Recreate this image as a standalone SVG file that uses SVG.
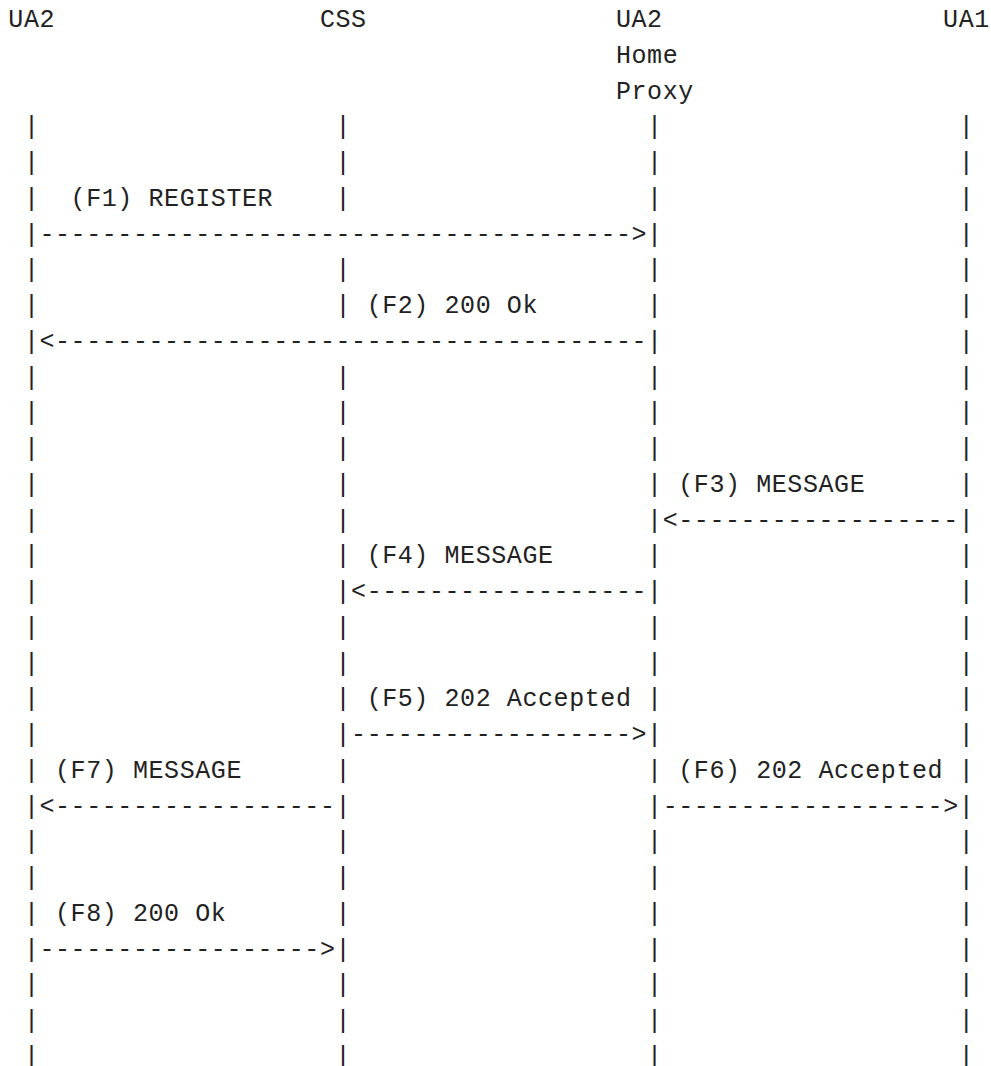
<svg xmlns="http://www.w3.org/2000/svg" width="991" height="1066" viewBox="0 0 991 1066">
<style>
text { font-family: "Liberation Mono", "DejaVu Sans Mono", monospace; font-size: 25px; letter-spacing: 0.58px; fill: #222; white-space: pre; }
</style>
<rect width="991" height="1066" fill="#ffffff"/>
<g id="node-ua2">
<text x="8.3" y="27">UA2</text>
<text><tspan x="23.88" y="134.25">|</tspan><tspan x="23.88" y="170">|</tspan><tspan x="23.88" y="205.75">|</tspan><tspan x="23.88" y="241.5">|</tspan><tspan x="23.88" y="277.25">|</tspan><tspan x="23.88" y="313">|</tspan><tspan x="23.88" y="348.75">|</tspan><tspan x="23.88" y="384.5">|</tspan><tspan x="23.88" y="420.25">|</tspan><tspan x="23.88" y="456">|</tspan><tspan x="23.88" y="491.75">|</tspan><tspan x="23.88" y="527.5">|</tspan><tspan x="23.88" y="563.25">|</tspan><tspan x="23.88" y="599">|</tspan><tspan x="23.88" y="634.75">|</tspan><tspan x="23.88" y="670.5">|</tspan><tspan x="23.88" y="706.25">|</tspan><tspan x="23.88" y="742">|</tspan><tspan x="23.88" y="777.75">|</tspan><tspan x="23.88" y="813.5">|</tspan><tspan x="23.88" y="849.25">|</tspan><tspan x="23.88" y="885">|</tspan><tspan x="23.88" y="920.75">|</tspan><tspan x="23.88" y="956.5">|</tspan><tspan x="23.88" y="992.25">|</tspan><tspan x="23.88" y="1028">|</tspan><tspan x="23.88" y="1063.75">|</tspan></text>
</g>
<g id="node-css">
<text x="319.9" y="27">CSS</text>
<text><tspan x="335.48" y="134.25">|</tspan><tspan x="335.48" y="170">|</tspan><tspan x="335.48" y="205.75">|</tspan><tspan x="335.48" y="277.25">|</tspan><tspan x="335.48" y="313">|</tspan><tspan x="335.48" y="384.5">|</tspan><tspan x="335.48" y="420.25">|</tspan><tspan x="335.48" y="456">|</tspan><tspan x="335.48" y="491.75">|</tspan><tspan x="335.48" y="527.5">|</tspan><tspan x="335.48" y="563.25">|</tspan><tspan x="335.48" y="599">|</tspan><tspan x="335.48" y="634.75">|</tspan><tspan x="335.48" y="670.5">|</tspan><tspan x="335.48" y="706.25">|</tspan><tspan x="335.48" y="742">|</tspan><tspan x="335.48" y="777.75">|</tspan><tspan x="335.48" y="813.5">|</tspan><tspan x="335.48" y="849.25">|</tspan><tspan x="335.48" y="885">|</tspan><tspan x="335.48" y="920.75">|</tspan><tspan x="335.48" y="956.5">|</tspan><tspan x="335.48" y="992.25">|</tspan><tspan x="335.48" y="1028">|</tspan><tspan x="335.48" y="1063.75">|</tspan></text>
</g>
<g id="node-ua2-home-proxy">
<text x="615.92" y="27">UA2</text>
<text x="615.92" y="62.75">Home</text>
<text x="615.92" y="98.5">Proxy</text>
<text><tspan x="647.08" y="134.25">|</tspan><tspan x="647.08" y="170">|</tspan><tspan x="647.08" y="205.75">|</tspan><tspan x="647.08" y="241.5">|</tspan><tspan x="647.08" y="277.25">|</tspan><tspan x="647.08" y="313">|</tspan><tspan x="647.08" y="348.75">|</tspan><tspan x="647.08" y="384.5">|</tspan><tspan x="647.08" y="420.25">|</tspan><tspan x="647.08" y="456">|</tspan><tspan x="647.08" y="491.75">|</tspan><tspan x="647.08" y="527.5">|</tspan><tspan x="647.08" y="563.25">|</tspan><tspan x="647.08" y="599">|</tspan><tspan x="647.08" y="634.75">|</tspan><tspan x="647.08" y="670.5">|</tspan><tspan x="647.08" y="706.25">|</tspan><tspan x="647.08" y="742">|</tspan><tspan x="647.08" y="777.75">|</tspan><tspan x="647.08" y="813.5">|</tspan><tspan x="647.08" y="849.25">|</tspan><tspan x="647.08" y="885">|</tspan><tspan x="647.08" y="920.75">|</tspan><tspan x="647.08" y="956.5">|</tspan><tspan x="647.08" y="992.25">|</tspan><tspan x="647.08" y="1028">|</tspan><tspan x="647.08" y="1063.75">|</tspan></text>
</g>
<g id="node-ua1">
<text x="943.1" y="27">UA1</text>
<text><tspan x="958.68" y="134.25">|</tspan><tspan x="958.68" y="170">|</tspan><tspan x="958.68" y="205.75">|</tspan><tspan x="958.68" y="241.5">|</tspan><tspan x="958.68" y="277.25">|</tspan><tspan x="958.68" y="313">|</tspan><tspan x="958.68" y="348.75">|</tspan><tspan x="958.68" y="384.5">|</tspan><tspan x="958.68" y="420.25">|</tspan><tspan x="958.68" y="456">|</tspan><tspan x="958.68" y="491.75">|</tspan><tspan x="958.68" y="527.5">|</tspan><tspan x="958.68" y="563.25">|</tspan><tspan x="958.68" y="599">|</tspan><tspan x="958.68" y="634.75">|</tspan><tspan x="958.68" y="670.5">|</tspan><tspan x="958.68" y="706.25">|</tspan><tspan x="958.68" y="742">|</tspan><tspan x="958.68" y="777.75">|</tspan><tspan x="958.68" y="813.5">|</tspan><tspan x="958.68" y="849.25">|</tspan><tspan x="958.68" y="885">|</tspan><tspan x="958.68" y="920.75">|</tspan><tspan x="958.68" y="956.5">|</tspan><tspan x="958.68" y="992.25">|</tspan><tspan x="958.68" y="1028">|</tspan><tspan x="958.68" y="1063.75">|</tspan></text>
</g>
<g id="connectors">
<text x="70.62" y="205.75">(F1) REGISTER</text>
<text x="39.46" y="241.5">--------------------------------------&gt;</text>
<text x="366.64" y="313">(F2) 200 Ok</text>
<text x="39.46" y="348.75">&lt;--------------------------------------</text>
<text x="678.24" y="491.75">(F3) MESSAGE</text>
<text x="662.66" y="527.5">&lt;------------------</text>
<text x="366.64" y="563.25">(F4) MESSAGE</text>
<text x="351.06" y="599">&lt;------------------</text>
<text x="366.64" y="706.25">(F5) 202 Accepted</text>
<text x="351.06" y="742">------------------&gt;</text>
<text x="678.24" y="777.75">(F6) 202 Accepted</text>
<text x="662.66" y="813.5">------------------&gt;</text>
<text x="55.04" y="777.75">(F7) MESSAGE</text>
<text x="39.46" y="813.5">&lt;------------------</text>
<text x="55.04" y="920.75">(F8) 200 Ok</text>
<text x="39.46" y="956.5">------------------&gt;</text>
</g>
</svg>
